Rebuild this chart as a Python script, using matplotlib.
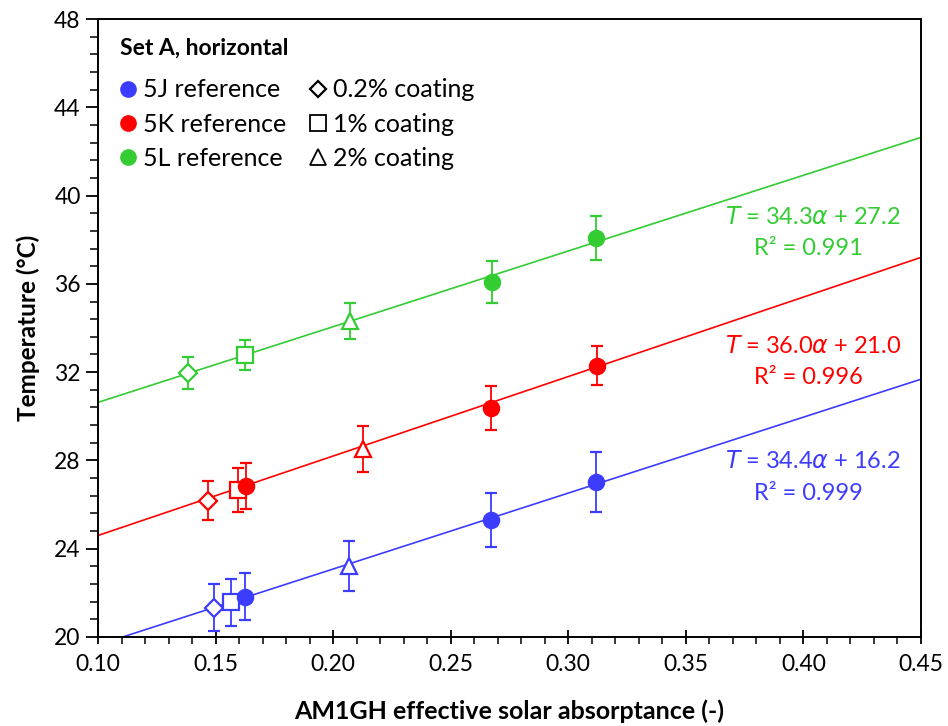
import matplotlib.pyplot as plt
from matplotlib.lines import Line2D
from matplotlib.ticker import MultipleLocator
import numpy as np

plt.rcParams['font.family'] = ['Lato', 'DejaVu Sans']

# absorptance, temperature and error for each sample
# order: 0.2% coating, 1% coating, 2% coating, then the reference samples
blue_x = [0.1495, 0.1566, 0.2066, 0.1625, 0.2671, 0.3118]
blue_y = [21.33, 21.57, 23.22, 21.83, 25.30, 27.02]
blue_err = [1.06, 1.08, 1.13, 1.08, 1.23, 1.35]

red_x = [0.1467, 0.1594, 0.2128, 0.1628, 0.2671, 0.3121]
red_y = [26.18, 26.66, 28.52, 26.84, 30.38, 32.29]
red_err = [0.88, 1.00, 1.05, 1.05, 1.00, 0.88]

green_x = [0.1383, 0.1625, 0.2072, 0.2674, 0.3118]
green_y = [31.96, 32.78, 34.32, 36.07, 38.08]
green_err = [0.72, 0.68, 0.80, 0.95, 1.00]

blue_markers = ['D', 's', '^', 'o', 'o', 'o']
red_markers = ['D', 's', '^', 'o', 'o', 'o']
green_markers = ['D', 's', '^', 'o', 'o']

# linear fits T = a*alpha + b
fit_slope = [34.4, 36.0, 34.3]
fit_icept = [16.2, 21.0, 27.2]
fit_r2 = [0.999, 0.996, 0.991]

c_blue = '#3c3cff'
c_red = '#ff0000'
c_green = '#33cc33'

msize = {'D': 9.5, 's': 11, '^': 12, 'o': 11}

fig = plt.figure(figsize=(9.48, 7.26), dpi=100)
ax = fig.add_axes([0.1034, 0.1226, 0.8681, 0.8512])

series = [
    (blue_x, blue_y, blue_err, blue_markers, c_blue),
    (red_x, red_y, red_err, red_markers, c_red),
    (green_x, green_y, green_err, green_markers, c_green),
]

xs = np.array([0.10, 0.45])
for i, (x, y, e, mk, c) in enumerate(series):
    ax.plot(xs, fit_slope[i] * xs + fit_icept[i], color=c, lw=1.2, zorder=1)
    for xi, yi, ei, m in zip(x, y, e, mk):
        face = c if m == 'o' else 'white'
        ax.errorbar(xi, yi, yerr=ei, fmt=m, ms=msize[m], mfc=face, mec=c,
                    mew=1.6, ecolor=c, elinewidth=1.3, capsize=4, capthick=1.3,
                    zorder=3)

# fit equations
eq_pos = [(0.404, 27.97), (0.404, 33.19), (0.404, 39.03)]
for i, c in enumerate([c_blue, c_red, c_green]):
    tx, ty = eq_pos[i]
    ax.text(tx, ty, r'$T$ = %.1f$\alpha$ + %.1f' % (fit_slope[i], fit_icept[i]),
            color=c, fontsize=17, ha='center', va='center')
    ax.text(tx - 0.002, ty - 1.45, 'R² = %.3f' % fit_r2[i], color=c, fontsize=17,
            ha='center', va='center')

ax.set_xlim(0.10, 0.45)
ax.set_ylim(20, 48)
ax.xaxis.set_major_locator(MultipleLocator(0.05))
ax.xaxis.set_minor_locator(MultipleLocator(0.01))
ax.yaxis.set_major_locator(MultipleLocator(4))
ax.yaxis.set_minor_locator(MultipleLocator(0.8))
ax.xaxis.set_major_formatter(plt.FormatStrFormatter('%.2f'))
ax.tick_params(axis='x', which='major', direction='inout', length=10, width=1.3, labelsize=16.5, pad=7)
ax.tick_params(axis='x', which='minor', direction='out', length=5, width=1.1)
ax.tick_params(axis='y', which='major', direction='out', length=9, width=1.3, labelsize=16.5)
ax.tick_params(axis='y', which='minor', direction='out', length=6, width=1.1)
for s in ax.spines.values():
    s.set_linewidth(1.4)

ax.set_xlabel('AM1GH effective solar absorptance (-)', fontsize=18, fontweight='bold', labelpad=18)
ax.set_ylabel('Temperature (°C)', fontsize=17.5, fontweight='bold', labelpad=10)

# legend title
ax.text(0.0267, 0.953, 'Set A, horizontal', transform=ax.transAxes,
        fontsize=16.5, fontweight='bold', ha='left', va='center')

handles = [
    Line2D([], [], ls='none', marker='o', ms=11, color=c_blue),
    Line2D([], [], ls='none', marker='o', ms=11, color=c_red),
    Line2D([], [], ls='none', marker='o', ms=11, color=c_green),
    Line2D([], [], ls='none', marker='D', ms=8, mfc='white', mec='black', mew=1.6),
    Line2D([], [], ls='none', marker='s', ms=11, mfc='white', mec='black', mew=1.3),
    Line2D([], [], ls='none', marker='^', ms=12, mfc='white', mec='black', mew=1.3),
]
labels = ['5J reference', '5K reference', '5L reference',
          '0.2% coating', '1% coating', '2% coating']
leg = ax.legend(handles, labels, ncol=2, loc='upper left', frameon=False,
                fontsize=18, handlelength=0.7, handletextpad=0.25,
                columnspacing=0.9, labelspacing=0.45, borderpad=0,
                borderaxespad=0, bbox_to_anchor=(0.026, 0.904))

fig.savefig('out.png', dpi=100)
